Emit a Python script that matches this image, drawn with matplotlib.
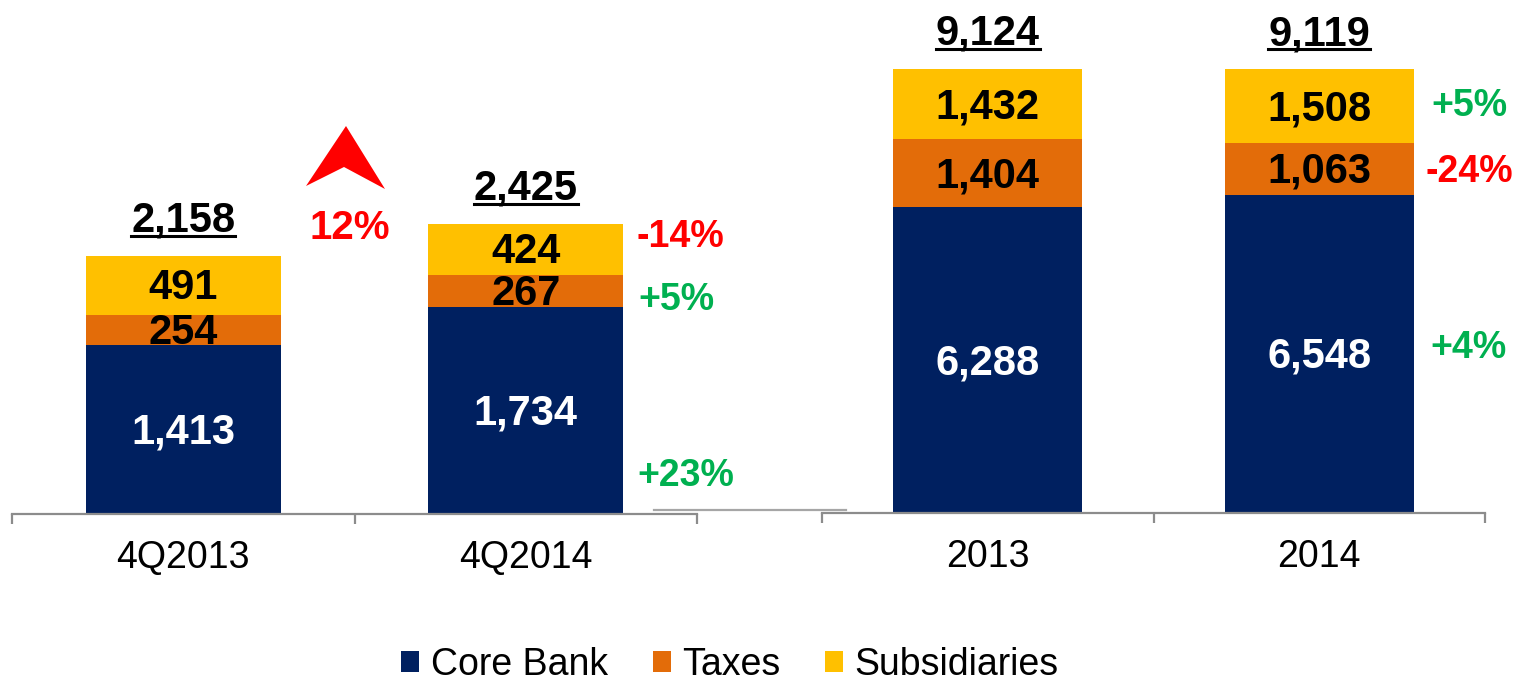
import matplotlib.pyplot as plt
from matplotlib.patches import Patch, Polygon
from matplotlib.lines import Line2D

plt.rcParams['font.family'] = ['Liberation Sans', 'DejaVu Sans']

# Quarterly figures
quarters = ['4Q2013', '4Q2014']
q_core = [1413, 1734]
q_taxes = [254, 267]
q_subs = [491, 424]

# Full-year figures
years = ['2013', '2014']
y_core = [6288, 6548]
y_taxes = [1404, 1063]
y_subs = [1432, 1508]

series = ['Core Bank', 'Taxes', 'Subsidiaries']
colors = ['#002060', '#E36C09', '#FFC000']
label_colors = ['white', 'black', 'black']

# Growth labels next to the bars (text, x px, y px)
q_changes = [('-14%', 680, 237), ('+5%', 676, 300), ('+23%', 686, 476)]
y_changes = [('+5%', 1469, 106), ('-24%', 1469, 172), ('+4%', 1469, 348)]
total_change = '12%'

RED = '#FF0000'
GREEN = '#00B050'
W, H = 1526, 680

fig = plt.figure(figsize=(W / 100, H / 100), dpi=100)


def fx(px):
    return px / W


def fy(py):
    return 1 - py / H


def stacked(ax, cats, parts, ymax):
    bottoms = [0] * len(cats)
    x = range(len(cats))
    for vals, c, tc in zip(parts, colors, label_colors):
        bars = ax.bar(x, vals, bottom=bottoms, width=0.57, color=c, linewidth=0)
        anns = ax.bar_label(bars, labels=[f"{v:,}" for v in vals], label_type='center',
                            color=tc, fontsize=30, fontweight='bold')
        for a in anns:
            a.xyann = (0, -2.2)
        bottoms = [b + v for b, v in zip(bottoms, vals)]
    ax.set_xlim(-0.5, len(cats) - 0.5)
    ax.set_ylim(0, ymax)
    for s in ['top', 'left', 'right']:
        ax.spines[s].set_visible(False)
    ax.spines['bottom'].set_color('#8C8C8C')
    ax.spines['bottom'].set_linewidth(1.6)
    ax.set_yticks([])
    ax.set_xticks(list(x))
    ax.set_xticklabels(cats, fontsize=27)
    ax.tick_params(axis='x', which='major', length=0, pad=19)
    ax.set_xticks([i - 0.5 for i in range(len(cats) + 1)], minor=True)
    ax.tick_params(axis='x', which='minor', length=7.5, width=1.6, color='#8C8C8C')
    totals = []
    for i, t in enumerate(bottoms):
        txt = ax.annotate(f"{t:,}", (i, t), xytext=(0, 17.5), textcoords='offset points',
                          ha='center', va='baseline', fontsize=30, fontweight='bold')
        totals.append((txt, i, t))
    return totals


ax1 = fig.add_axes([fx(12), fy(514), fx(685), 514 / H])
ax2 = fig.add_axes([fx(822), fy(513), fx(663), 513 / H])
tot1 = stacked(ax1, quarters, [q_core, q_taxes, q_subs], 514 * 8.363)
tot2 = stacked(ax2, years, [y_core, y_taxes, y_subs], 513 * 20.56)

# stray separator line between the two panels
fig.add_artist(Line2D([fx(654), fx(846)], [fy(510), fy(510)], color='#A6A6A6', linewidth=1.6))

# growth arrow and total change
fig.add_artist(Polygon([(fx(346), fy(126)), (fx(306), fy(186)), (fx(344), fy(167)), (fx(385), fy(189))],
                       closed=True, facecolor=RED, edgecolor='none', transform=fig.transFigure))
fig.text(fx(350), fy(228), total_change, color=RED, fontsize=29, fontweight='bold',
         ha='center', va='center')

for txt, px, py in q_changes + y_changes:
    fig.text(fx(px), fy(py), txt, color=RED if txt.startswith('-') else GREEN,
             fontsize=27, fontweight='bold', ha='center', va='center')

# underline the totals
fig.canvas.draw()
renderer = fig.canvas.get_renderer()
for ax, tots in [(ax1, tot1), (ax2, tot2)]:
    for txt, i, t in tots:
        bb = txt.get_window_extent(renderer)
        _, ytop = ax.transData.transform((i, t))
        yline = (ytop + 20) / H
        fig.add_artist(Line2D([bb.x0 / W, bb.x1 / W], [yline, yline], color='black', linewidth=2.2))

handles = [Patch(facecolor=c, edgecolor='none') for c in colors]
fig.legend(handles, series, loc='center', bbox_to_anchor=(fx(730), fy(665)), ncol=3,
           frameon=False, fontsize=27, handlelength=0.48, handleheight=0.48,
           handletextpad=0.3, columnspacing=1.2, borderaxespad=0, borderpad=0)

fig.savefig('out.png', dpi=100, facecolor='white')
